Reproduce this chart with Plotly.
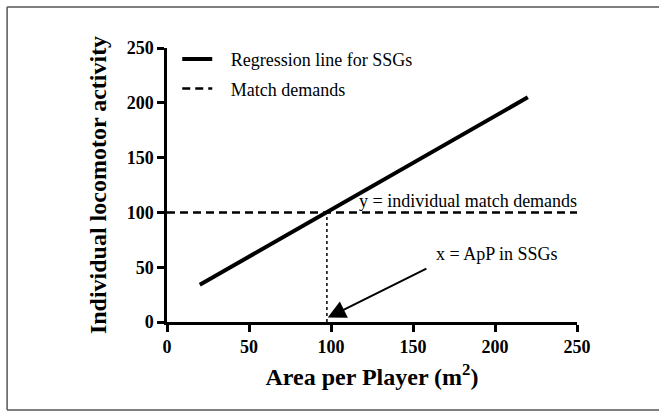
import plotly.graph_objects as go

# Data
reg_x = [20, 220]
reg_y = [34, 205]
match_x = [0, 250]
match_y = [100, 100]
cross_x = [97.5, 97.5]
cross_y = [0, 100]
x_ticks = [0, 50, 100, 150, 200, 250]
y_ticks = [0, 50, 100, 150, 200, 250]

FONT = "Liberation Serif"
PAD = "\u00a0\u00a0\u00a0"

fig = go.Figure()
fig.add_trace(go.Scatter(x=reg_x, y=reg_y, mode="lines", name=PAD + "Regression line for SSGs",
                         line=dict(color="black", width=4), legendgroup="a"))
fig.add_trace(go.Scatter(x=match_x, y=match_y, mode="lines", name=PAD + "Match demands",
                         line=dict(color="black", width=2.5, dash="8px,5px"), legendgroup="b"))
fig.add_trace(go.Scatter(x=cross_x, y=cross_y, mode="lines", showlegend=False,
                         line=dict(color="black", width=1.5, dash="dot")))

fig.add_annotation(x=98, y=4, ax=160, ay=50, xref="x", yref="y", axref="x", ayref="y",
                   showarrow=True, arrowhead=2, arrowsize=1.8, arrowwidth=2, arrowcolor="black",
                   text=" ")
fig.add_annotation(x=116, y=110, xref="x", yref="y", text="y = individual match demands",
                   showarrow=False, xanchor="left", yanchor="middle",
                   font=dict(family=FONT, size=18, color="black"))
fig.add_annotation(x=163, y=62, xref="x", yref="y", text="x = ApP in SSGs",
                   showarrow=False, xanchor="left", yanchor="middle",
                   font=dict(family=FONT, size=18, color="black"))

# frame
fr = dict(color="#555555", width=1.5)
fig.add_shape(type="line", xref="paper", yref="paper", x0=-0.39, x1=1.2, y0=1.1496, y1=1.1496, line=fr)
fig.add_shape(type="line", xref="paper", yref="paper", x0=-0.39, x1=1.2, y0=-0.321, y1=-0.321, line=fr)
fig.add_shape(type="line", xref="paper", yref="paper", x0=-0.39, x1=-0.39, y0=-0.321, y1=1.1496, line=fr)

axis_common = dict(showgrid=False, zeroline=False, showline=True, linecolor="black", linewidth=2.5,
                   ticks="outside", ticklen=7, tickwidth=2.5, tickcolor="black",
                   tickfont=dict(family=FONT, size=18, color="black"))

fig.update_xaxes(range=[0, 250], tickvals=x_ticks, ticktext=[f"<b>{t}</b>" for t in x_ticks],
                 title=dict(text="<b>Area per Player (m<sup>2</sup>)</b>",
                            font=dict(family=FONT, size=24, color="black"), standoff=12),
                 **axis_common)
fig.update_yaxes(range=[0, 250], tickvals=y_ticks, ticktext=[f"<b>{t}</b>" for t in y_ticks],
                 title=dict(text="<b>Individual locomotor activity</b>",
                            font=dict(family=FONT, size=24, color="black"), standoff=14),
                 **axis_common)

fig.update_layout(
    width=659, height=412,
    margin=dict(l=167, r=82, t=48, b=90),
    plot_bgcolor="white", paper_bgcolor="white",
    showlegend=True,
    legend=dict(x=0.025, y=1.026, xanchor="left", yanchor="top", bgcolor="rgba(0,0,0,0)",
                font=dict(family=FONT, size=18, color="black"), tracegroupgap=3),
)

fig.write_html("out.html", config={"displayModeBar": False},
               post_script="document.body.style.margin='0';document.body.style.overflow='hidden';")
